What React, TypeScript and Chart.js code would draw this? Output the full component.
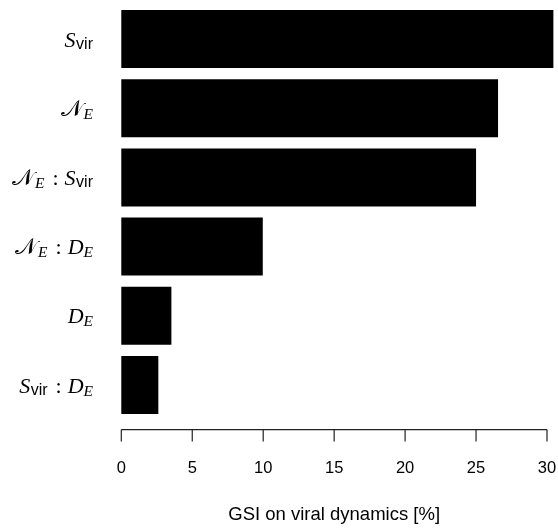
import React, { useEffect, useRef } from "react";
import { Chart, registerables } from "chart.js";

Chart.register(...registerables);

// ---- data ----
const categories = ["S_vir", "N_E", "N_E : S_vir", "N_E : D_E", "D_E", "S_vir : D_E"];
const gsiValues = [30.45, 26.55, 25.0, 9.97, 3.53, 2.61];
const xTickValues = [0, 5, 10, 15, 20, 25, 30];
const xTitle = "GSI on viral dynamics [%]";

const SANS = '"Liberation Sans", Arial, sans-serif';
const SERIF = '"Liberation Serif", "Times New Roman", serif';
const CAL_N = "\u{1D4A9}";

type Seg = { t: string; font: string; dy: number; gapBefore?: number };

function tokenSegs(tok: string): Seg[] {
  const [base, sub] = tok.split("_");
  const segs: Seg[] = [];
  if (base === "N") {
    segs.push({ t: CAL_N, font: `23px "DejaVu Serif", "DejaVu Sans", ${SERIF}`, dy: 0 });
  } else {
    segs.push({ t: base, font: `italic 22px ${SERIF}`, dy: 0 });
  }
  if (sub) {
    if (sub === "vir") segs.push({ t: sub, font: `16px ${SANS}`, dy: 2.5, gapBefore: 0.5 });
    else segs.push({ t: sub, font: `italic 15.5px ${SERIF}`, dy: 3, gapBefore: base === "N" ? 1 : 0 });
  }
  return segs;
}

function labelSegs(label: string): Seg[] {
  const parts = label.split(" : ");
  let out: Seg[] = [];
  parts.forEach((p, i) => {
    if (i > 0) out.push({ t: ":", font: `22px ${SERIF}`, dy: 0, gapBefore: 8 });
    const s = tokenSegs(p);
    if (i > 0) s[0].gapBefore = 6;
    out = out.concat(s);
  });
  return out;
}

const mathLabelsPlugin = {
  id: "mathLabels",
  afterDraw(chart: any) {
    const ctx = chart.ctx;
    const yScale = chart.scales.y;
    const rightEdge = 93;
    ctx.save();
    ctx.fillStyle = "#000";
    ctx.textBaseline = "alphabetic";
    ctx.textAlign = "left";
    categories.forEach((lab, i) => {
      const segs = labelSegs(lab);
      let total = 0;
      const widths = segs.map((s) => {
        ctx.font = s.font;
        const w = ctx.measureText(s.t).width;
        total += w + (s.gapBefore || 0);
        return w;
      });
      let x = rightEdge - total;
      const yc = yScale.getPixelForValue(i) + 7.5;
      segs.forEach((s, k) => {
        x += s.gapBefore || 0;
        ctx.font = s.font;
        ctx.fillText(s.t, x, yc + s.dy);
        x += widths[k];
      });
    });
    ctx.restore();
  },
};

const rAxisPlugin = {
  id: "rAxis",
  afterDraw(chart: any) {
    const ctx = chart.ctx;
    const xs = chart.scales.x;
    const y0 = chart.chartArea.bottom + 10;
    const x0 = xs.getPixelForValue(xTickValues[0]);
    const x1 = xs.getPixelForValue(xTickValues[xTickValues.length - 1]);
    ctx.save();
    ctx.strokeStyle = "#222";
    ctx.lineWidth = 1.2;
    ctx.beginPath();
    ctx.moveTo(x0, y0);
    ctx.lineTo(x1, y0);
    xTickValues.forEach((v) => {
      const px = xs.getPixelForValue(v);
      ctx.moveTo(px, y0);
      ctx.lineTo(px, y0 + 12);
    });
    ctx.stroke();
    ctx.restore();
  },
};

export default function App() {
  const ref = useRef<HTMLCanvasElement | null>(null);
  useEffect(() => {
    if (!ref.current) return;
    const chart = new Chart(ref.current, {
      type: "bar",
      data: {
        labels: categories,
        datasets: [
          {
            data: gsiValues,
            backgroundColor: "#000",
            borderWidth: 0,
            barPercentage: 0.838,
            categoryPercentage: 1,
            clip: false as any,
          },
        ],
      },
      options: {
        indexAxis: "y",
        animation: false,
        responsive: false,
        events: [],
        layout: { padding: { left: 121.3, right: 11, top: 4.4, bottom: 0 } },
        plugins: { legend: { display: false }, tooltip: { enabled: false } },
        scales: {
          x: {
            type: "linear",
            min: 0,
            max: 30,
            grid: { display: false, drawTicks: true, tickLength: 39 },
            border: { display: false },
            afterBuildTicks: (scale: any) => {
              scale.ticks = xTickValues.map((v) => ({ value: v }));
            },
            afterFit: (scale: any) => {
              scale.height = 108.4;
            },
            ticks: {
              color: "#000",
              padding: 0,
              maxRotation: 0,
              font: { family: SANS, size: 16.5 },
            },
            title: {
              display: true,
              text: xTitle,
              color: "#000",
              font: { family: SANS, size: 18.5 },
              padding: { top: 0, bottom: 2 },
            },
          },
          y: {
            type: "category",
            grid: { display: false, drawTicks: false },
            border: { display: false },
            ticks: { display: false },
            afterFit: (scale: any) => {
              scale.width = 0;
            },
          },
        },
      },
      plugins: [mathLabelsPlugin, rAxisPlugin],
    });
    return () => chart.destroy();
  }, []);
  return (
    <div style={{ position: "fixed", left: 0, top: 0, width: 558, height: 528, background: "#fff" }}>
      <canvas ref={ref} width={558} height={528} style={{ display: "block", width: 558, height: 528 }} />
    </div>
  );
}
